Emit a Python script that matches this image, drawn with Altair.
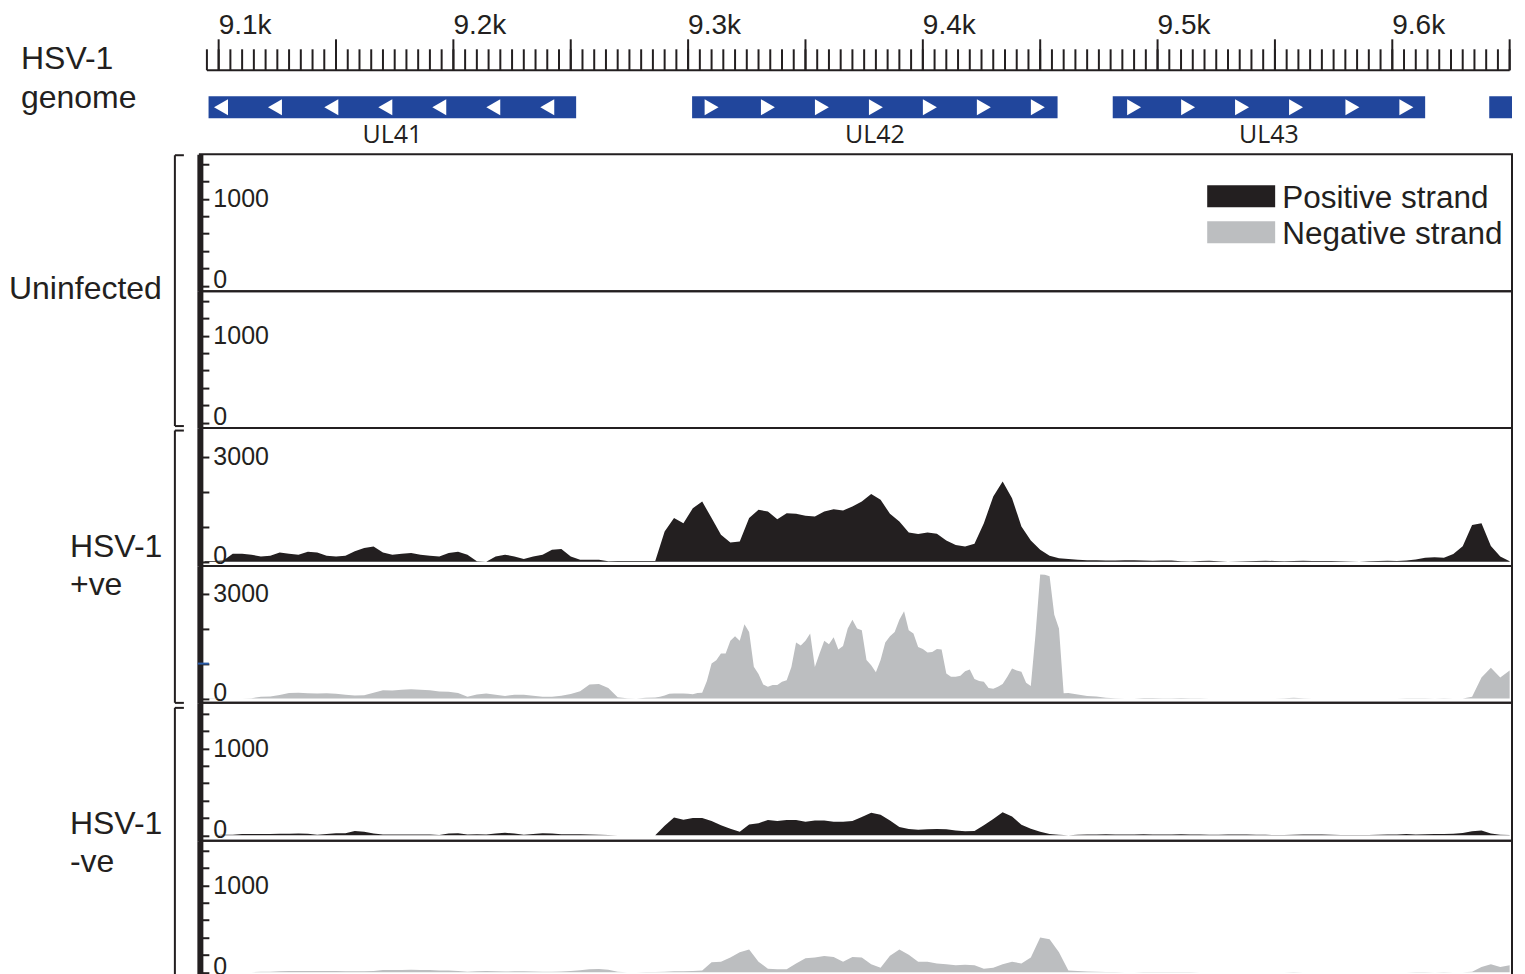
import altair as alt
import pandas as pd

# ------------------------------------------------------------------ data
ruler_minor = list(range(9095, 9651, 5))
ruler_major = list(range(9100, 9651, 50))
ruler_label_pos = [9100, 9200, 9300, 9400, 9500, 9600]
ruler_label_text = ["9.1k", "9.2k", "9.3k", "9.4k", "9.5k", "9.6k"]

gene_names = ["UL41", "UL42", "UL43", "UL44"]
gene_start = [9095.7, 9301.7, 9480.9, 9641.3]
gene_end = [9252.3, 9457.4, 9614.0, 9651.0]
gene_strand = ["-", "+", "+", "+"]

arrow_gene = ["UL41"] * 7 + ["UL42"] * 7 + ["UL43"] * 6
arrow_pos = [9101, 9124, 9148, 9171, 9194, 9217, 9240,
             9310, 9334, 9357, 9380, 9403, 9426, 9449,
             9490, 9513, 9536, 9559, 9583, 9606]

strand_names = ["Positive strand", "Negative strand"]
genome_label = "HSV-1\ngenome"
sample_labels = ["Uninfected", "HSV-1\n+ve", "HSV-1\n-ve"]

ticks_1k = [0, 200, 400, 600, 800, 1000, 1200, 1400]
labeled_1k = [0, 1000]
ticks_3k = [0, 1000, 2000, 3000]
labeled_3k = [0, 3000]
blue_tick = [1000]

# coverage bins (bp), one value per bin
bins = list(range(9094, 9651, 4))
# finer bins for the HSV-1 +ve negative strand track (spiky region)
bins_fine = list(range(9094, 9286, 4)) + list(range(9286, 9464, 2)) + list(range(9466, 9651, 4))

uninf_plus = []
uninf_minus = []

hsv_pve_plus = [
    20, 20, 30, 228, 228, 200, 150, 170, 265, 228,
    200, 285, 265, 170, 150, 170, 295, 390, 437, 265,
    200, 228, 247, 200, 170, 150, 247, 285, 200, 10,
    0, 150, 200, 150, 76, 150, 200, 340, 360, 150,
    57, 57, 57, 10, 20, 20, 20, 20, 20, 865,
    1245, 1100, 1530, 1720, 1245, 770, 551, 580, 1245, 1482,
    1435, 1216, 1387, 1368, 1311, 1292, 1435, 1500, 1463, 1577,
    1720, 1938, 1767, 1368, 1150, 836, 788, 836, 798, 608,
    475, 437, 513, 1100, 1862, 2290, 1815, 1007, 608, 342,
    171, 95, 76, 57, 40, 40, 35, 35, 40, 38,
    30, 25, 32, 30, 15, 5, 20, 25, 10, 0,
    5, 15, 20, 25, 20, 15, 20, 25, 22, 20,
    22, 15, 5, 0, 15, 20, 25, 20, 30, 60,
    110, 125, 110, 220, 440, 1050, 1100, 450, 150, 10,
]

hsv_pve_minus = [
    # 9094 .. 9282 (step 4)
    10, 10, 5, 0, 0, 10, 50, 60, 100, 160,
    166, 150, 145, 150, 140, 110, 90, 95, 170, 240,
    230, 255, 265, 255, 240, 200, 195, 160, 52, 120,
    147, 110, 75, 110, 110, 80, 52, 55, 80, 130,
    210, 400, 420, 300, 40, 10, 5, 20,
    # 9286 .. 9462 (step 2)
    30, 50, 90, 140, 147, 147, 147, 140, 125, 160,
    166, 500, 1000, 1097, 1287, 1287, 1650, 1781, 1650, 2122,
    1900, 907, 700, 400, 337, 385, 385, 480, 527, 900,
    1600, 1520, 1650, 1857, 900, 1287, 1650, 1550, 1750, 1400,
    1500, 2000, 2250, 2000, 1952, 1100, 955, 750, 1100, 1600,
    1781, 1900, 2250, 2500, 1952, 1857, 1477, 1420, 1320, 1330,
    1420, 1400, 717, 622, 622, 650, 780, 830, 560, 500,
    480, 300, 280, 337, 420, 622, 860, 800, 765, 450,
    360, 1830, 3550, 3540, 3500, 2400, 2000, 150, 160,
    # 9466 .. 9650 (step 4)
    120, 71, 60, 20, 10, 5, 5,
    15, 15, 12, 12, 15, 12, 10, 5, 3, 2,
    0, 0, 2, 5, 5, 8, 20, 10, 5, 3,
    2, 3, 3, 2, 2, 5, 5, 5, 10, 12,
    8, 5, 10, 3, 0, 50, 600, 880, 600, 800,
]

hsv_nve_plus = [
    0, 0, 5, 5, 15, 15, 15, 15, 18, 18,
    20, 18, 5, 15, 23, 23, 50, 40, 20, 8,
    8, 10, 10, 8, 8, 2, 20, 23, 10, 12,
    10, 20, 30, 20, 5, 15, 23, 20, 12, 11,
    11, 10, 5, 2, 0, 0, 0, 0, 0, 110,
    205, 180, 200, 200, 165, 115, 75, 40, 125, 138,
    176, 165, 176, 176, 155, 170, 170, 155, 155, 165,
    210, 260, 237, 170, 95, 72, 65, 70, 73, 70,
    55, 46, 50, 115, 188, 264, 215, 120, 75, 40,
    15, 5, 0, 5, 10, 10, 12, 10, 8, 10,
    12, 10, 8, 10, 12, 10, 8, 5, 5, 8,
    10, 8, 5, 5, 3, 3, 5, 8, 10, 8,
    5, 3, 3, 2, 3, 5, 8, 10, 15, 10,
    12, 14, 16, 18, 25, 45, 55, 20, 5, 2,
]

hsv_nve_minus = [
    0, 0, 0, 0, 0, 0, 5, 5, 10, 15,
    15, 15, 15, 15, 15, 10, 10, 10, 15, 25,
    25, 25, 28, 25, 25, 20, 20, 15, 5, 12,
    15, 10, 8, 10, 10, 8, 5, 5, 8, 15,
    22, 35, 38, 28, 5, 0, 0, 2, 3, 5,
    10, 10, 15, 20, 115, 120, 170, 230, 260, 120,
    40, 35, 35, 100, 160, 170, 185, 175, 120, 175,
    170, 90, 50, 190, 260, 200, 120, 120, 100, 90,
    80, 85, 80, 40, 50, 90, 120, 100, 170, 400,
    380, 230, 20, 15, 8, 5, 2, 2, 0, 0,
    2, 2, 2, 2, 2, 2, 0, 0, 0, 0,
    0, 0, 0, 0, 0, 0, 2, 0, 0, 0,
    0, 0, 0, 0, 0, 0, 0, 0, 0, 2,
    2, 0, 2, 0, 0, 5, 60, 90, 60, 80,
]

# ------------------------------------------------------------------ style / layout
W = 1313
X_DOMAIN = [9092, 9651]
H_TOP = 146
PANEL_H = [137, 137, 138, 137, 138, 137]
INK = "#231f20"
GREY = "#bcbec0"
BLUE = "#21469c"
LABEL_FONT = "Liberation Sans"
RULER_FONT = "Open Sans"
BR_X, BR_X2 = -25, -16

xscale = alt.Scale(domain=X_DOMAIN, nice=False, zero=False)
strand_scale = alt.Scale(domain=strand_names, range=[INK, GREY])


def xenc(field):
    return alt.X(f"{field}:Q", scale=xscale, axis=None)


def one_row():
    return pd.DataFrame({"_": [0]})


# ------------------------------------------------------------------ top: ruler + genes
minor_df = pd.DataFrame({"pos": ruler_minor})
major_df = pd.DataFrame({"pos": ruler_major})
rlab_df = pd.DataFrame({"pos": ruler_label_pos, "text": ruler_label_text})
rline_df = pd.DataFrame({"start": [min(ruler_minor)], "end": [max(ruler_minor)]})
genes_df = pd.DataFrame({"gene": gene_names, "start": gene_start,
                         "end": gene_end, "strand": gene_strand})
arrows_df = pd.DataFrame({"gene": arrow_gene, "pos": arrow_pos}).merge(
    genes_df[["gene", "strand"]], on="gene")

ruler_line = alt.Chart(rline_df).mark_rule(color=INK, strokeWidth=2).encode(
    x=xenc("start"), x2=alt.X2("end:Q"), y=alt.value(62))
ruler_minor_ticks = alt.Chart(minor_df).mark_rule(color=INK, strokeWidth=2).encode(
    x=xenc("pos"), y=alt.value(41), y2=alt.value(62))
ruler_major_ticks = alt.Chart(major_df).mark_rule(color=INK, strokeWidth=2).encode(
    x=xenc("pos"), y=alt.value(31), y2=alt.value(62))
ruler_labels = alt.Chart(rlab_df).mark_text(
    font=LABEL_FONT, fontSize=28, color=INK, align="left", baseline="alphabetic"
).encode(x=xenc("pos"), y=alt.value(26), text="text:N")

gene_bars = alt.Chart(genes_df).mark_rect(color=BLUE, clip=True).encode(
    x=xenc("start"), x2=alt.X2("end:Q"), y=alt.value(88), y2=alt.value(110))
gene_arrows = alt.Chart(arrows_df).mark_point(
    filled=True, color="white", opacity=1, size=260, strokeWidth=0
).encode(
    x=xenc("pos"), y=alt.value(99),
    shape=alt.Shape("strand:N", scale=alt.Scale(domain=["-", "+"],
                    range=["triangle-left", "triangle-right"]), legend=None))
gene_labels = alt.Chart(genes_df).transform_filter(
    f"datum.end < {X_DOMAIN[1]}"
).transform_calculate(mid="(datum.start + datum.end) / 2").mark_text(
    font=RULER_FONT, fontSize=25, color=INK, baseline="middle"
).encode(x=xenc("mid"), y=alt.value(127), text="gene:N")


def sample_text(label, x, y, line_height=38):
    return alt.Chart(pd.DataFrame({"t": [label]})).mark_text(
        font=LABEL_FONT, fontSize=32, color=INK, align="left",
        baseline="alphabetic", lineBreak="\n", lineHeight=line_height
    ).encode(x=alt.value(x), y=alt.value(y), text="t:N")


top = alt.layer(
    ruler_line, ruler_minor_ticks, ruler_major_ticks, ruler_labels,
    gene_bars, gene_arrows, gene_labels, sample_text(genome_label, -179, 61, 39)
).properties(width=W, height=H_TOP, view=alt.ViewBackground(strokeWidth=0))


# ------------------------------------------------------------------ coverage panels
def yscale_for(kind, h):
    ppu, zero = (0.087, 5.5) if kind == "1k" else (0.035, 4.3)
    return alt.Scale(domain=[-zero / ppu, (h - zero) / ppu], nice=False, zero=False)


def yaxis_for(kind):
    ticks, labeled = (ticks_1k, labeled_1k) if kind == "1k" else (ticks_3k, labeled_3k)
    return alt.Axis(
        orient="right", offset=-W, values=ticks, format="d",
        labelExpr=f"indexof({labeled}, datum.value) >= 0 ? datum.label : ''",
        tickSize=9, tickWidth=2, tickColor=INK, domainWidth=6, domainColor=INK,
        labelFont=LABEL_FONT, labelFontSize=25, labelColor=INK, labelPadding=4,
        labelAlign="left", labelBaseline="middle",
        labelOffset={"condition": {"test": "datum.value == 0", "value": -6}, "value": 0},
        labelOverlap=False, labelBound=False, grid=False, title=None)


def bracket(top_y, bottom_y):
    base = alt.Chart(one_row()).mark_rule(color=INK, strokeWidth=2)
    return [
        base.encode(x=alt.value(BR_X), y=alt.value(top_y), y2=alt.value(bottom_y)),
        base.encode(x=alt.value(BR_X), x2=alt.value(BR_X2), y=alt.value(top_y)),
        base.encode(x=alt.value(BR_X), x2=alt.value(BR_X2), y=alt.value(bottom_y)),
    ]


def coverage_panel(values, strand, kind, h, positions=None, extra=(),
                   scaled_extra=None, independent=False):
    pos = positions if positions is not None else bins
    df = pd.DataFrame({"pos": pos[:len(values)], "cov": values,
                       "strand": [strand] * len(values)})
    ys = yscale_for(kind, h)
    ya = yaxis_for(kind)
    area = alt.Chart(df).mark_area(clip=True, interpolate="linear").encode(
        x=xenc("pos"),
        y=alt.Y("cov:Q", scale=ys, axis=ya),
        y2=alt.value(h),
        color=alt.Color("strand:N", scale=strand_scale, legend=None),
    )
    layers = [area]
    if scaled_extra is not None:
        layers.append(scaled_extra(ys, ya))
    layers.extend(extra)
    ch = alt.layer(*layers).properties(
        width=W, height=h, view=alt.ViewBackground(stroke=INK, strokeWidth=2))
    if independent:
        ch = ch.resolve_scale(y="independent")
    return ch


legend_df = pd.DataFrame({"strand": strand_names})
legend_y = alt.Y("strand:N", scale=alt.Scale(type="point", domain=strand_names,
                                             range=[42, 78], padding=0), axis=None)
legend_swatch = alt.Chart(legend_df).mark_rule(strokeWidth=22, strokeCap="butt").encode(
    x=alt.value(1008), x2=alt.value(1076), y=legend_y,
    color=alt.Color("strand:N", scale=strand_scale, legend=None))
legend_text = alt.Chart(legend_df).mark_text(
    font=LABEL_FONT, fontSize=31.5, color=INK, align="left", baseline="middle", dy=3
).encode(x=alt.value(1083), y=legend_y, text="strand:N")


def blue_marker(ys, ya):
    return alt.Chart(pd.DataFrame({"v": blue_tick})).mark_rule(
        color="#2a5caa", strokeWidth=2).encode(
        x=alt.value(-2), x2=alt.value(9), y=alt.Y("v:Q", scale=ys, axis=ya))


p1 = coverage_panel(uninf_plus, strand_names[0], "1k", PANEL_H[0],
                    extra=[legend_swatch, legend_text,
                           sample_text(sample_labels[0], -191, 145)] + bracket(1, 272),
                    independent=True)
p2 = coverage_panel(uninf_minus, strand_names[1], "1k", PANEL_H[1])
p3 = coverage_panel(hsv_pve_plus, strand_names[0], "3k", PANEL_H[2],
                    extra=[sample_text(sample_labels[1], -130, 129)] + bracket(2.5, 275))
p4 = coverage_panel(hsv_pve_minus, strand_names[1], "3k", PANEL_H[3],
                    positions=bins_fine, scaled_extra=blue_marker)
p5 = coverage_panel(hsv_nve_plus, strand_names[0], "1k", PANEL_H[4],
                    extra=[sample_text(sample_labels[2], -130, 131)] + bracket(5, 300))
p6 = coverage_panel(hsv_nve_minus, strand_names[1], "1k", PANEL_H[5])

chart = alt.vconcat(top, p1, p2, p3, p4, p5, p6, spacing=0, bounds="flush").properties(
    padding={"left": 0, "top": 0, "right": 4, "bottom": 0})

chart.save("out.html", embed_options={"renderer": "svg", "actions": False})
